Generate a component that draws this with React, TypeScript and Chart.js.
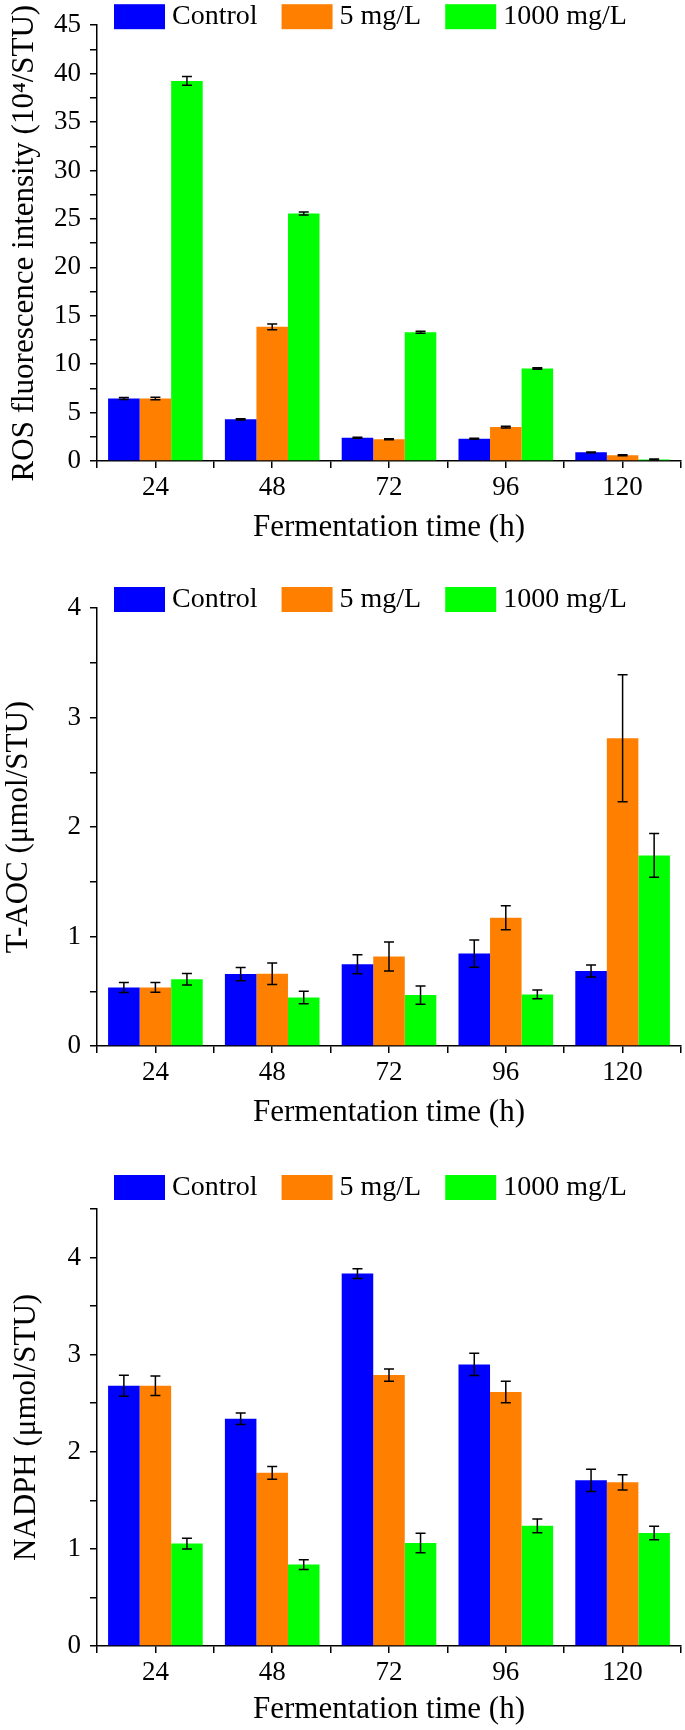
import React, { useEffect, useRef } from 'react';
import { Chart, registerables } from 'chart.js';

Chart.register(...registerables);

const FONT = '"Liberation Serif", "Times New Roman", serif';

// Shared categories and series
const categories = [24, 48, 72, 96, 120];
const xTickStep = 12;
const seriesNames = ['Control', '5 mg/L', '1000 mg/L'];
const seriesColors = ['#0000FF', '#FF8000', '#00FF00'];

// Panel 1: ROS fluorescence intensity (10^4/STU)
const rosControl = [6.45, 4.3, 2.4, 2.3, 0.9];
const rosControlErr = [0.1, 0.06, 0.05, 0.05, 0.04];
const ros5 = [6.45, 13.85, 2.25, 3.5, 0.6];
const ros5Err = [0.12, 0.3, 0.05, 0.08, 0.05];
const ros1000 = [39.25, 25.55, 13.3, 9.55, 0.15];
const ros1000Err = [0.45, 0.15, 0.1, 0.08, 0.05];

// Panel 2: T-AOC (umol/STU)
const taocControl = [0.535, 0.657, 0.746, 0.844, 0.685];
const taocControlErr = [0.046, 0.06, 0.087, 0.124, 0.055];
const taoc5 = [0.535, 0.66, 0.817, 1.171, 2.81];
const taoc5Err = [0.045, 0.098, 0.133, 0.11, 0.58];
const taoc1000 = [0.61, 0.443, 0.465, 0.471, 1.74];
const taoc1000Err = [0.053, 0.058, 0.083, 0.04, 0.2];

// Panel 3: NADPH (umol/STU)
const nadphControl = [2.68, 2.34, 3.835, 2.9, 1.706];
const nadphControlErr = [0.108, 0.06, 0.05, 0.115, 0.115];
const nadph5 = [2.68, 1.783, 2.79, 2.615, 1.685];
const nadph5Err = [0.1, 0.065, 0.063, 0.11, 0.078];
const nadph1000 = [1.055, 0.838, 1.06, 1.237, 1.164];
const nadph1000Err = [0.055, 0.05, 0.1, 0.07, 0.07];

// Axis settings
const xTitle = 'Fermentation time (h)';
const rosTitle = 'ROS fluorescence intensity (10\u2074/STU)';
const taocTitle = 'T-AOC (\u03bcmol/STU)';
const nadphTitle = 'NADPH (\u03bcmol/STU)';

const panels = [
  {
    height: 560, top: 24, bottom: 461, yMax: 45, yStep: 2.5, yLabelEvery: 5,
    title: rosTitle, values: [rosControl, ros5, ros1000], errors: [rosControlErr, ros5Err, ros1000Err],
    legendDy: -21, yTitlePad: 6, xTitlePad: 14,
  },
  {
    height: 590, top: 48, bottom: 486, yMax: 4, yStep: 0.5, yLabelEvery: 1,
    title: taocTitle, values: [taocControl, taoc5, taoc1000], errors: [taocControlErr, taoc5Err, taoc1000Err],
    legendDy: -21, yTitlePad: 0, xTitlePad: 19,
  },
  {
    height: 580, top: 59, bottom: 496, yMax: 4.5, yStep: 0.5, yLabelEvery: 1,
    title: nadphTitle, values: [nadphControl, nadph5, nadph1000], errors: [nadphControlErr, nadph5Err, nadph1000Err],
    legendDy: -34, yTitlePad: 8, xTitlePad: 2,
  },
];

const errorBarPlugin = {
  id: 'errorBars',
  afterDatasetsDraw(chart: any) {
    const ctx = chart.ctx;
    const yScale = chart.scales.y;
    ctx.save();
    ctx.strokeStyle = '#000';
    ctx.lineWidth = 1.5;
    chart.data.datasets.forEach((ds: any, i: number) => {
      const meta = chart.getDatasetMeta(i);
      const errs = ds.errors || [];
      meta.data.forEach((bar: any, j: number) => {
        const v = ds.data[j].y;
        const e = errs[j];
        if (e == null) return;
        const x = bar.x;
        const yt = yScale.getPixelForValue(v + e);
        const yb = yScale.getPixelForValue(v - e);
        const cap = 5;
        ctx.beginPath();
        ctx.moveTo(x, yt);
        ctx.lineTo(x, yb);
        ctx.moveTo(x - cap, yt);
        ctx.lineTo(x + cap, yt);
        ctx.moveTo(x - cap, yb);
        ctx.lineTo(x + cap, yb);
        ctx.stroke();
      });
    });
    ctx.restore();
  },
};

const legendPlugin = {
  id: 'topLegend',
  afterDraw(chart: any, _args: any, opts: any) {
    const { ctx, chartArea } = chart;
    let x = chartArea.left + (opts.dx ?? 17);
    const y = chartArea.top + (opts.dy ?? -21);
    const bw = 51;
    const bh = 25;
    ctx.save();
    ctx.font = `28px ${FONT}`;
    ctx.textBaseline = 'middle';
    ctx.textAlign = 'left';
    chart.data.datasets.forEach((ds: any) => {
      ctx.fillStyle = ds.backgroundColor;
      ctx.fillRect(x, y, bw, bh);
      x += bw + 7;
      ctx.fillStyle = '#000';
      ctx.fillText(ds.label, x, y + bh / 2);
      x += ctx.measureText(ds.label).width + 24;
    });
    ctx.restore();
  },
};

function Panel({ cfg }: { cfg: any }) {
  const ref = useRef<HTMLCanvasElement | null>(null);
  useEffect(() => {
    if (!ref.current) return;
    const datasets = seriesNames.map((name, s) => ({
      label: name,
      data: categories.map((c, i) => ({ x: c, y: cfg.values[s][i] })),
      errors: cfg.errors[s],
      backgroundColor: seriesColors[s],
      borderWidth: 0,
      categoryPercentage: 1.62,
      barPercentage: 1,
    }));
    const chart = new Chart(ref.current, {
      type: 'bar',
      data: { datasets } as any,
      plugins: [errorBarPlugin, legendPlugin],
      options: {
        animation: false,
        responsive: false,
        maintainAspectRatio: false,
        layout: { padding: { top: cfg.top, right: 1, left: 0, bottom: 0 } },
        plugins: {
          legend: { display: false },
          tooltip: { enabled: false },
          topLegend: { dx: 17, dy: cfg.legendDy },
        } as any,
        scales: {
          x: {
            type: 'linear',
            offset: false,
            min: categories[0] - xTickStep,
            max: categories[categories.length - 1] + xTickStep,
            afterFit: (scale: any) => { scale.height = cfg.height - cfg.bottom; },
            ticks: {
              stepSize: xTickStep,
              autoSkip: false,
              maxRotation: 0,
              padding: 4,
              color: '#000',
              font: { family: FONT, size: 27 },
              callback: (v: any) => (categories.includes(Number(v)) ? String(v) : ''),
            },
            grid: {
              offset: false,
              drawOnChartArea: false,
              drawTicks: true,
              tickLength: 7,
              color: '#000',
              lineWidth: 1.5,
            },
            border: { display: true, color: '#000', width: 1.5 },
            title: {
              display: true,
              text: xTitle,
              color: '#000',
              font: { family: FONT, size: 31 },
              padding: { top: 0, bottom: cfg.xTitlePad },
            },
          },
          y: {
            type: 'linear',
            min: 0,
            max: cfg.yMax,
            afterFit: (scale: any) => { scale.width = 97; },
            ticks: {
              stepSize: cfg.yStep,
              autoSkip: false,
              padding: 9,
              color: '#000',
              font: { family: FONT, size: 27 },
              callback: (v: any) => {
                const n = Number(v);
                const r = n / cfg.yLabelEvery;
                return Math.abs(r - Math.round(r)) < 1e-6 && n <= Math.floor(cfg.yMax / cfg.yLabelEvery) * cfg.yLabelEvery
                  ? String(n) : '';
              },
            },
            grid: {
              drawOnChartArea: false,
              drawTicks: true,
              tickLength: 7,
              color: '#000',
              lineWidth: 1.5,
            },
            border: { display: true, color: '#000', width: 1.5 },
            title: {
              display: true,
              text: cfg.title,
              color: '#000',
              font: { family: FONT, size: 31 },
              padding: { top: cfg.yTitlePad, bottom: 0 },
            },
          },
        } as any,
      },
    });
    return () => chart.destroy();
  }, [cfg]);
  return <canvas ref={ref} width={685} height={cfg.height} style={{ display: 'block', width: 685, height: cfg.height }} />;
}

export default function App() {
  return (
    <div style={{ position: 'absolute', left: 0, top: 0, width: 685, background: '#fff' }}>
      {panels.map((p, i) => (
        <Panel key={i} cfg={p} />
      ))}
    </div>
  );
}
